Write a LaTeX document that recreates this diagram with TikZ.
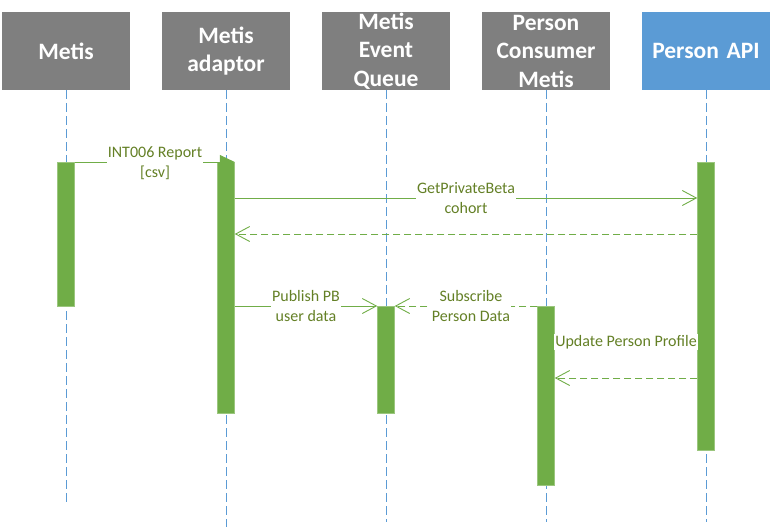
\documentclass[tikz,border=0pt]{standalone}
\usepackage{fontspec}
\setmainfont{Carlito}
\usepackage{tikz}
\usetikzlibrary{arrows.meta}
\definecolor{boxgray}{RGB}{127,127,127}
\definecolor{apiblue}{RGB}{91,155,213}
\definecolor{actgreen}{RGB}{112,173,71}
\definecolor{msgtext}{RGB}{100,128,38}
\tikzset{
	head/.style={fill=boxgray, text=white, minimum width=128pt, minimum height=78pt, text width=124pt, align=center, inner sep=0pt, font=\bfseries\fontsize{23.5}{28.5}\selectfont},
	life/.style={draw=apiblue, line width=0.8pt, dash pattern=on 9pt off 4pt},
	bar/.style={fill=actgreen, draw=actgreen!70!white, line width=0.5pt, minimum width=17pt, inner sep=0pt, anchor=north},
	msg/.style={draw=actgreen, line width=0.9pt, -{Straight Barb[length=14pt,width=15pt,line width=0.9pt]}},
	reply/.style={msg, dash pattern=on 7pt off 4pt},
	lbl/.style={fill=white, text=msgtext, align=center, inner sep=1pt, font=\fontsize{16}{20}\selectfont}
}
\begin{document}
\begin{tikzpicture}[x=1pt, y=-1pt]
	\useasboundingbox (0,0) rectangle (773,527);
	\node[head] (metis) at (66,51) {Metis};
	\node[head] (adaptor) at (226,51) {Metis\\adaptor};
	\node[head] (queue) at (386,51) {Metis\\Event\\Queue};
	\node[head] (consumer) at (546,51) {Person\\Consumer\\Metis};
	\node[head, fill=apiblue] (api) at (706,51) {Person API};
	\coordinate (metisend) at (66,505);
	\coordinate (adaptorend) at (226,527);
	\coordinate (queueend) at (386,522);
	\coordinate (consumerend) at (546,522);
	\coordinate (apiend) at (706,522);
	\foreach \n in {metis,adaptor,queue,consumer,api}
		\draw[life] (\n.south) -- (\n end);
	\node[bar, minimum height=144pt] (metisbar) at (66,162) {};
	\node[bar, minimum height=251pt] (adaptorbar) at (226,162) {};
	\node[bar, minimum height=107pt] (queuebar) at (386,306) {};
	\node[bar, minimum height=179pt] (consumerbar) at (546,306) {};
	\node[bar, minimum height=288pt] (apibar) at (706,162) {};
	\coordinate (r2) at (0,198);
	\coordinate (r3) at (0,234);
	\coordinate (r6) at (0,378);
	\draw[draw=actgreen, line width=0.9pt, -{Triangle[length=15pt,width=14pt]}] (metisbar.north east) -- (adaptorbar.north east);
	\draw[msg] (adaptorbar.east |- r2) -- (apibar.west |- r2);
	\draw[reply] (apibar.west |- r3) -- (adaptorbar.east |- r3);
	\draw[msg] (adaptorbar.east |- queuebar.north) -- (queuebar.north west);
	\draw[reply] (consumerbar.north west) -- (queuebar.north east);
	\draw[reply] (apibar.west |- r6) -- (consumerbar.east |- r6);
	\node[lbl] (l1) at (155,163) {INT006 Report\\{[csv]}};
	\node[lbl] (l2) at (466,198) {GetPrivateBeta\\cohort};
	\node[lbl] (l4) at (306,306) {Publish PB\\user data};
	\node[lbl] (l5) at (471,306) {Subscribe\\Person Data};
	\node[lbl] (l6) at (626,342) {Update Person Profile};
\end{tikzpicture}
\end{document}
